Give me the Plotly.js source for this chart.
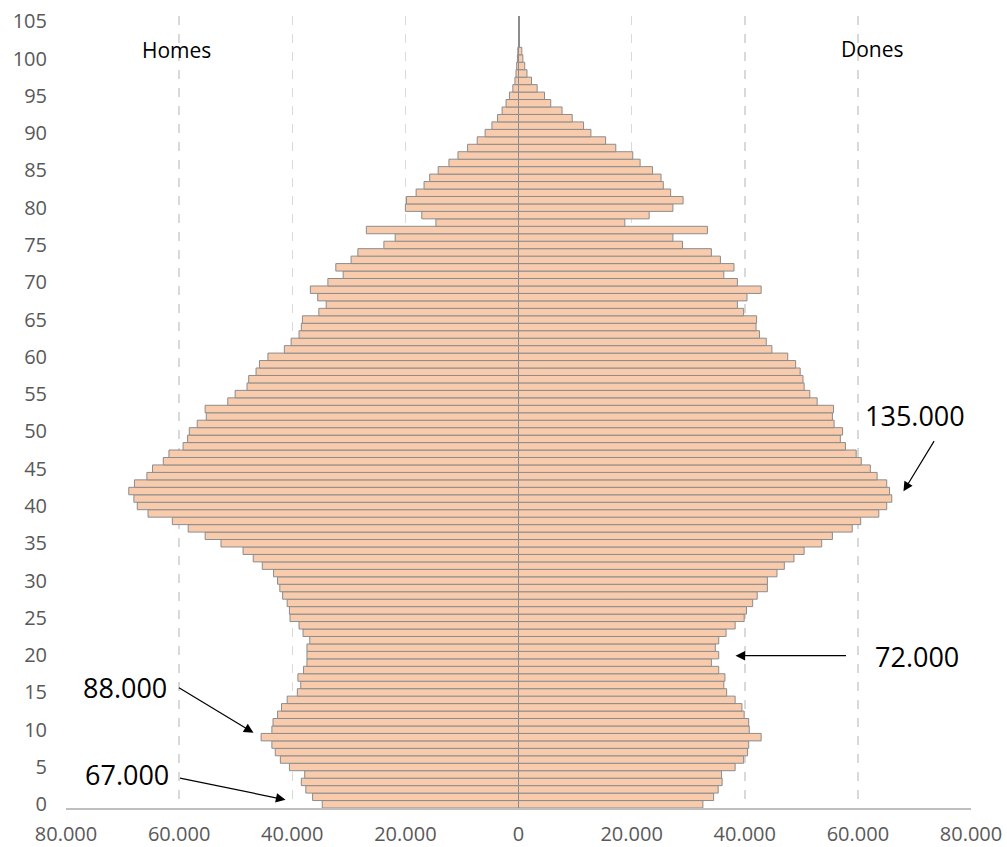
<!DOCTYPE html>
<html><head><meta charset="utf-8">
<script src="https://cdn.plot.ly/plotly-3.0.1.min.js"></script>
<style>html,body{margin:0;padding:0;background:#fff}#chart{width:1007px;height:847px}</style>
</head><body><div id="chart"></div>
<script>
const ages = [0,1,2,3,4,5,6,7,8,9,10,11,12,13,14,15,16,17,18,19,20,21,22,23,24,25,26,27,28,29,30,31,32,33,34,35,36,37,38,39,40,41,42,43,44,45,46,47,48,49,50,51,52,53,54,55,56,57,58,59,60,61,62,63,64,65,66,67,68,69,70,71,72,73,74,75,76,77,78,79,80,81,82,83,84,85,86,87,88,89,90,91,92,93,94,95,96,97,98,99,100,101];
const homes = [34700,36400,37600,38400,37800,40500,42100,43000,43600,45500,43600,43400,42600,41900,40900,39100,38500,39000,38000,37400,37400,37400,36900,38100,38800,40400,40500,40900,41700,42200,42600,43300,45300,46900,48700,52600,55400,58400,61200,65500,67400,68000,68900,67900,65700,64700,62800,61800,59300,58500,58200,56800,55200,55400,51400,50100,48000,47700,46400,45800,44300,41400,40200,38800,38400,38200,35300,34000,35500,36800,33700,31000,32300,29600,28400,23800,21800,26900,14600,17100,20000,19800,18100,16700,15700,14200,12300,10700,9000,7300,5900,4700,3700,2900,2200,1600,1000,630,440,320,190,120];
const dones = [32600,34500,35300,36000,35900,38300,39800,40500,40700,42900,40800,40700,39900,39500,38300,36800,36300,36500,35400,34100,35400,34800,35400,36700,38300,39900,40300,41400,42200,44000,44000,45700,47000,48700,50500,53600,55500,59000,60500,63700,65100,66000,65600,65100,63400,62200,60600,59700,57800,56900,57300,55800,55500,55700,52800,51500,50500,50300,49800,49000,47600,44800,43800,42600,42000,42100,39800,38700,40400,42900,38700,36300,38100,35700,34100,29000,27300,33400,18800,23100,27300,29100,26900,25600,25200,23700,21500,20200,17200,15400,12800,11500,9500,7700,5700,4600,3300,2300,1500,1100,770,590];
const xTickVals = [-80000,-60000,-40000,-20000,0,20000,40000,60000,80000];
const xTickText = ['80.000','60.000','40.000','20.000','0','20.000','40.000','60.000','80.000'];
const yTickVals = [0,5,10,15,20,25,30,35,40,45,50,55,60,65,70,75,80,85,90,95,100,105];
const sideLabels = ['Homes','Dones'];
const calloutText = ['135.000','72.000','88.000','67.000'];

const barStyle = {color:'#F8CBAD', line:{color:'#8C8C8C', width:1}};
const traces = [
  {type:'bar', orientation:'h', name:sideLabels[0], y:ages, x:homes.map(v=>-v), marker:barStyle, hoverinfo:'skip'},
  {type:'bar', orientation:'h', name:sideLabels[1], y:ages, x:dones, marker:barStyle, hoverinfo:'skip'}
];

const arrowBase = {showarrow:true, text:'', arrowhead:2, arrowsize:1.6, arrowwidth:1.2, arrowcolor:'#000', xref:'x', yref:'y', axref:'x', ayref:'y', standoff:0, startstandoff:0};
const txtBase = {showarrow:false, xref:'x', yref:'y', font:{family:'Open Sans', size:27, color:'#000'}};
const sideFont = {family:'Open Sans', size:21, color:'#000'};
const annotations = [
  Object.assign({}, txtBase, {text:sideLabels[0], x:-60466, y:101.1, font:sideFont}),
  Object.assign({}, txtBase, {text:sideLabels[1], x:62587, y:101.3, font:sideFont}),
  Object.assign({}, txtBase, {text:calloutText[0], x:70013, y:52.1}),
  Object.assign({}, txtBase, {text:calloutText[1], x:70366, y:19.8}),
  Object.assign({}, txtBase, {text:calloutText[2], x:-69482, y:15.6}),
  Object.assign({}, txtBase, {text:calloutText[3], x:-69129, y:3.96}),
  Object.assign({}, arrowBase, {x:68066, y:41.96, ax:73637, ay:48.9}),
  Object.assign({}, arrowBase, {x:38366, y:19.92, ax:58167, ay:19.92}),
  Object.assign({}, arrowBase, {x:-46852, y:9.59, ax:-60289, ay:15.76}),
  Object.assign({}, arrowBase, {x:-41194, y:0.6, ax:-60112, ay:3.55})
];

const layout = {
  width:1007, height:847,
  margin:{l:66, r:36, t:16, b:39},
  paper_bgcolor:'#fff', plot_bgcolor:'#fff',
  barmode:'relative', bargap:0,
  showlegend:false,
  font:{family:'Open Sans', size:20, color:'#595959'},
  xaxis:{range:[-80000,80000], tickvals:xTickVals, ticktext:xTickText,
    showgrid:true, gridcolor:'#D9D9D9', griddash:'dash', gridwidth:1.5,
    zeroline:true, zerolinecolor:'#8C8C8C', zerolinewidth:2,
    showline:true, linecolor:'#BFBFBF', linewidth:1.5,
    ticks:'outside', ticklen:7, tickcolor:'rgba(0,0,0,0)',
    tickfont:{family:'Open Sans', size:20, color:'#595959'}, fixedrange:true},
  yaxis:{range:[-0.5,105.7], tickvals:yTickVals, showgrid:false, zeroline:false, showline:false,
    ticks:'outside', ticklen:14, tickcolor:'rgba(0,0,0,0)',
    tickfont:{family:'Open Sans', size:20, color:'#595959'}, fixedrange:true},
  annotations:annotations
};
Plotly.newPlot('chart', traces, layout, {displayModeBar:false, staticPlot:true});
</script></body></html>
